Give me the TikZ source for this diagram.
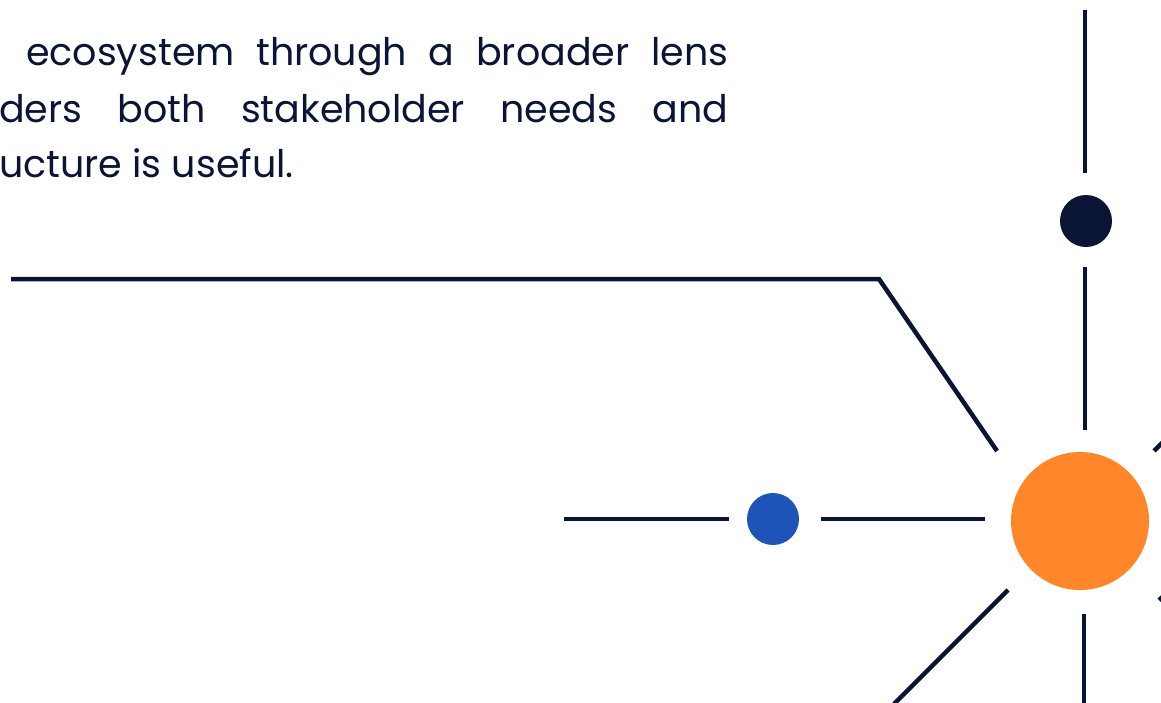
\documentclass[tikz,border=0pt]{standalone}
\usepackage{fontspec}
\setmainfont{Poppins}
\definecolor{navy}{HTML}{0A1536}
\definecolor{orng}{HTML}{FF8629}
\definecolor{blu}{HTML}{1E54B8}
\begin{document}
\begin{tikzpicture}[x=1pt,y=-1pt,
  ln/.style={draw=navy,line width=4.5pt},
  txt/.style={anchor=base west,inner sep=0pt,text=navy,font=\fontsize{38}{46}\selectfont},
  dot/.style={circle,inner sep=0pt,minimum size=#1}]
\useasboundingbox (0,0) rectangle (1161,702);
\begin{scope}
\clip (0,0) rectangle (1161,702);
% text
\node[txt] (t1) at (26,65) {\makebox[702pt][s]{ecosystem through a broader lens}};
\node[txt] (t2) at (-1,122) {\makebox[729pt][s]{ders both stakeholder needs and}};
\node[txt] (t3) at (-1,177) {ucture is useful.};
% nodes
\node[dot=52pt,fill=navy] (nd) at (1086,221) {};
\node[dot=138pt,fill=orng] (oc) at (1080,521) {};
\node[dot=52pt,fill=blu] (bd) at (773,519) {};
% coordinates
\coordinate (a1) at (11,279);
\coordinate (a2) at (879,279);
\coordinate (a3) at (997,451);
\coordinate (v1) at (1085,10);
\coordinate (v2) at (1085,173);
\coordinate (v3) at (1085,267);
\coordinate (v4) at (1085,430);
\coordinate (h1) at (564,519);
\coordinate (h2) at (729,519);
\coordinate (h3) at (821,519);
\coordinate (h4) at (985,519);
\coordinate (d1) at (1008,590);
\coordinate (d2) at (894,704);
\coordinate (b1) at (1084,614);
\coordinate (b2) at (1084,710);
\coordinate (r1) at (1154,451);
\coordinate (r2) at (1180,425);
\coordinate (s1) at (1159,597);
\coordinate (s2) at (1180,618);
% lines
\draw[ln,line join=miter] (a1) -- (a2) -- (a3);
\draw[ln] (v1) -- (v2);
\draw[ln] (v3) -- (v4);
\draw[ln] (h1) -- (h2);
\draw[ln] (h3) -- (h4);
\draw[ln] (d1) -- (d2);
\draw[ln] (b1) -- (b2);
\draw[ln] (r1) -- (r2);
\draw[ln] (s1) -- (s2);
\end{scope}
\end{tikzpicture}
\end{document}
